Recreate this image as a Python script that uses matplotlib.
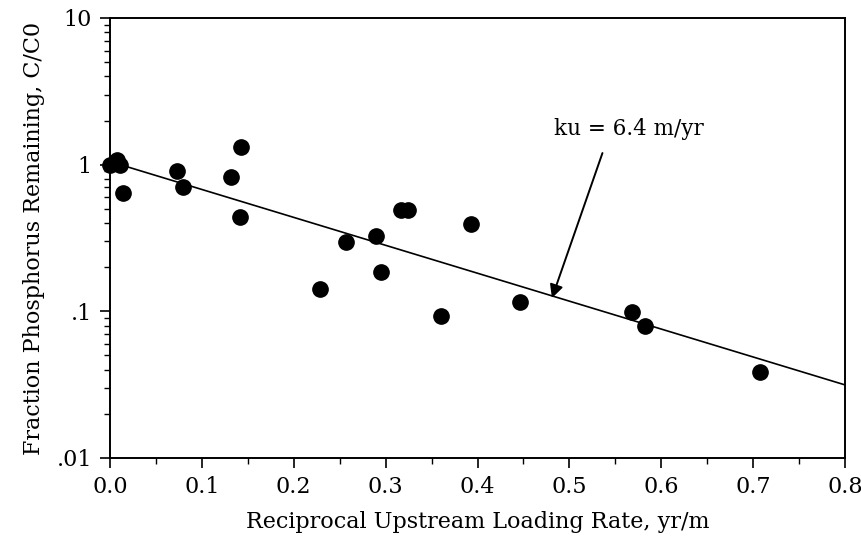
import numpy as np
import matplotlib.pyplot as plt
from matplotlib.ticker import FixedLocator, FixedFormatter, LogLocator, NullFormatter, MultipleLocator

plt.rcParams['font.family'] = 'DejaVu Serif'

# reciprocal upstream loading rate (yr/m) and fraction remaining C/C0
recip_load = [0.0, 0.0076, 0.011, 0.014, 0.073, 0.079, 0.132, 0.143, 0.141,
              0.229, 0.257, 0.289, 0.295, 0.317, 0.324, 0.360, 0.393, 0.446,
              0.568, 0.582, 0.708]
frac_p = [1.0, 1.08, 1.0, 0.64, 0.905, 0.705, 0.82, 1.32, 0.44,
          0.142, 0.297, 0.327, 0.186, 0.49, 0.49, 0.093, 0.394, 0.116,
          0.099, 0.079, 0.0386]

# fitted line ends
fit_x = [0.0, 0.8]
fit_y = [1.05, 0.0315]

y_ticks = [0.01, 0.1, 1, 10]
y_labels = ['.01', '.1', '1', '10']

fig = plt.figure(figsize=(8.62, 5.42), dpi=100)
ax = fig.add_axes([0.1276, 0.155, 0.8527, 0.8118])

xx = np.linspace(fit_x[0], fit_x[1], 50)
k = np.log(fit_y[0] / fit_y[1]) / (fit_x[1] - fit_x[0])
ax.plot(xx, fit_y[0] * np.exp(-k * (xx - fit_x[0])), color='black', lw=1.2)
ax.plot(recip_load, frac_p, 'o', color='black', ms=11, clip_on=False)

ax.set_yscale('log')
ax.set_xlim(0, 0.8)
ax.set_ylim(0.01, 10)
ax.yaxis.set_major_locator(FixedLocator(y_ticks))
ax.yaxis.set_major_formatter(FixedFormatter(y_labels))
ax.yaxis.set_minor_locator(LogLocator(base=10, subs=np.arange(2, 10)))
ax.yaxis.set_minor_formatter(NullFormatter())
ax.xaxis.set_major_locator(MultipleLocator(0.1))
ax.xaxis.set_minor_locator(MultipleLocator(0.05))
ax.xaxis.set_major_formatter(plt.FuncFormatter(lambda v, p: '%.1f' % v))

ax.tick_params(which='major', direction='out', length=7, width=1.2, labelsize=16, pad=6)
ax.tick_params(which='minor', direction='out', length=4, width=1)
for s in ax.spines.values():
    s.set_linewidth(1.4)

ax.set_xlabel('Reciprocal Upstream Loading Rate, yr/m', fontsize=16, labelpad=9)
ax.set_ylabel('Fraction Phosphorus Remaining, C/C0', fontsize=16, labelpad=8)

ax.text(0.565, 1.75, 'ku = 6.4 m/yr', fontsize=15.5, ha='center', va='center')
ax.annotate('', xy=(0.481, 0.123), xytext=(0.536, 1.20),
            arrowprops=dict(arrowstyle='-|>', color='black', lw=1.4,
                            mutation_scale=20, shrinkA=0, shrinkB=0))

fig.savefig('out.png', dpi=100)
